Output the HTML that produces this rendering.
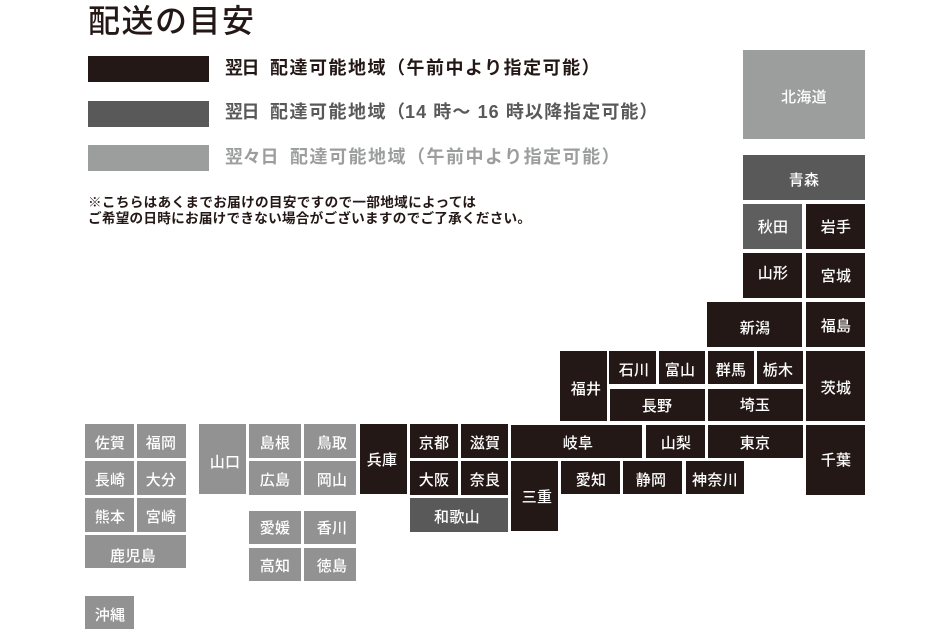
<!DOCTYPE html>
<html lang="ja">
<head>
<meta charset="utf-8">
<title>配送の目安</title>
<style>
html,body{margin:0;padding:0;background:#fff;}
svg{display:block;}
text{font-family:"Liberation Sans","Noto Sans CJK JP",sans-serif;}
.t text{fill:#fff;font-size:15px;font-weight:500;text-anchor:middle;letter-spacing:.3px;}
.k{fill:#231815}.m{fill:#595959}.g{fill:#929292}.h{fill:#9c9d9d}
.l{font-size:18px;font-weight:700;letter-spacing:1.5px;}
.n{font-size:13.6px;font-weight:700;fill:#231815;}
</style>
</head>
<body>
<svg width="950" height="633" viewBox="0 0 950 633" xmlns="http://www.w3.org/2000/svg">
<rect width="950" height="633" fill="#fff"/>
<text x="88" y="32" font-size="32" font-weight="500" fill="#231815" textLength="166">配送の目安</text>

<rect class="k" x="88" y="56" width="121" height="26"/>
<rect class="m" x="88" y="101" width="121" height="26"/>
<rect class="h" x="88" y="145" width="121" height="26"/>

<g fill="#231815" class="lg">
<text class="l" x="225" y="74" textLength="36">翌日</text>
<text class="l" x="270" y="74">配達可能地域（午前中より指定可能）</text>
</g>
<g fill="#595959">
<text class="l" x="225" y="118" textLength="36">翌日</text>
<text class="l" x="270" y="118">配達可能地域（</text>
<text class="l" x="405" y="118" textLength="254">14 時～ 16 時以降指定可能）</text>
</g>
<g fill="#9c9d9d">
<text class="l" x="225" y="163" textLength="55">翌々日</text>
<text class="l" x="290" y="163">配達可能地域（午前中より指定可能）</text>
</g>

<text class="n" x="88" y="207" textLength="388">※こちらはあくまでお届けの目安ですので一部地域によっては</text>
<text class="n" x="88" y="223" textLength="443">ご希望の日時にお届けできない場合がございますのでご了承ください。</text>

<g>
<rect class="h" x="743" y="50" width="122" height="89"/>
<rect class="m" x="743" y="155" width="122" height="45"/>
<rect class="m" x="743" y="204" width="59" height="45" style="fill:#5e5e5e"/>
<rect class="k" x="806" y="204" width="59" height="45"/>
<rect class="k" x="743" y="253" width="59" height="45"/>
<rect class="k" x="806" y="253" width="59" height="45"/>
<rect class="k" x="707" y="302" width="95" height="45"/>
<rect class="k" x="806" y="302" width="59" height="45"/>
<rect class="k" x="560" y="351" width="47" height="70"/>
<rect class="k" x="609" y="351" width="47" height="33"/>
<rect class="k" x="659" y="351" width="46" height="33"/>
<rect class="k" x="708" y="351" width="46" height="33"/>
<rect class="k" x="757" y="351" width="46" height="33"/>
<rect class="k" x="610" y="389" width="95" height="32"/>
<rect class="k" x="708" y="389" width="95" height="32"/>
<rect class="k" x="806" y="351" width="59" height="70"/>
<rect class="k" x="511" y="425" width="131" height="33"/>
<rect class="k" x="646" y="425" width="59" height="33"/>
<rect class="k" x="708" y="425" width="95" height="33"/>
<rect class="k" x="806" y="425" width="59" height="70"/>
<rect class="k" x="561" y="461" width="59" height="33"/>
<rect class="k" x="623" y="461" width="59" height="33"/>
<rect class="k" x="686" y="461" width="58" height="33"/>
<rect class="k" x="511" y="461" width="47" height="70"/>
<rect class="k" x="360" y="424" width="47" height="70"/>
<rect class="k" x="410" y="424" width="48" height="34"/>
<rect class="k" x="461" y="424" width="47" height="34"/>
<rect class="k" x="410" y="461" width="48" height="34"/>
<rect class="k" x="461" y="461" width="47" height="34"/>
<rect class="m" x="410" y="498" width="98" height="34"/>

<rect class="g" x="85" y="424" width="49" height="34"/>
<rect class="g" x="137" y="424" width="49" height="34"/>
<rect class="g" x="85" y="461" width="49" height="34"/>
<rect class="g" x="137" y="461" width="49" height="34"/>
<rect class="g" x="85" y="498" width="49" height="34"/>
<rect class="g" x="137" y="498" width="49" height="34"/>
<rect class="g" x="85" y="535" width="101" height="33"/>
<rect class="g" x="85" y="596" width="49" height="33"/>
<rect class="g" x="199" y="424" width="47" height="70"/>
<rect class="g" x="249" y="424" width="52" height="34"/>
<rect class="g" x="304" y="424" width="52" height="34"/>
<rect class="g" x="249" y="461" width="52" height="34"/>
<rect class="g" x="304" y="461" width="52" height="34"/>
<rect class="g" x="249" y="511" width="52" height="33"/>
<rect class="g" x="304" y="511" width="52" height="33"/>
<rect class="g" x="249" y="548" width="52" height="33"/>
<rect class="g" x="304" y="548" width="52" height="33"/>
</g>

<g class="t">
<text x="804" y="102">北海道</text>
<text x="804" y="185">青森</text>
<text x="773" y="232">秋田</text>
<text x="836" y="232">岩手</text>
<text x="773" y="278">山形</text>
<text x="836" y="281">宮城</text>
<text x="755" y="333">新潟</text>
<text x="836" y="331">福島</text>
<text x="586" y="394">福井</text>
<text x="634" y="375">石川</text>
<text x="680" y="375">富山</text>
<text x="731" y="375">群馬</text>
<text x="778" y="375">栃木</text>
<text x="657" y="411">長野</text>
<text x="755" y="410">埼玉</text>
<text x="836" y="393">茨城</text>
<text x="578" y="448">岐阜</text>
<text x="676" y="448">山梨</text>
<text x="755" y="448">東京</text>
<text x="836" y="465">千葉</text>
<text x="591" y="485">愛知</text>
<text x="651" y="485">静岡</text>
<text x="715" y="485">神奈川</text>
<text x="537" y="502">三重</text>
<text x="382" y="465">兵庫</text>
<text x="434" y="448">京都</text>
<text x="485" y="448">滋賀</text>
<text x="434" y="485">大阪</text>
<text x="485" y="485">奈良</text>
<text x="457" y="522">和歌山</text>
<text x="110" y="448">佐賀</text>
<text x="161" y="448">福岡</text>
<text x="110" y="485">長崎</text>
<text x="161" y="485">大分</text>
<text x="110" y="522">熊本</text>
<text x="161" y="522">宮崎</text>
<text x="133" y="561">鹿児島</text>
<text x="110" y="620">沖縄</text>
<text x="225" y="467">山口</text>
<text x="275" y="448">島根</text>
<text x="332" y="448">鳥取</text>
<text x="275" y="485">広島</text>
<text x="332" y="485">岡山</text>
<text x="275" y="533">愛媛</text>
<text x="332" y="533">香川</text>
<text x="275" y="571">高知</text>
<text x="332" y="571">徳島</text>
</g>
</svg>
</body>
</html>
